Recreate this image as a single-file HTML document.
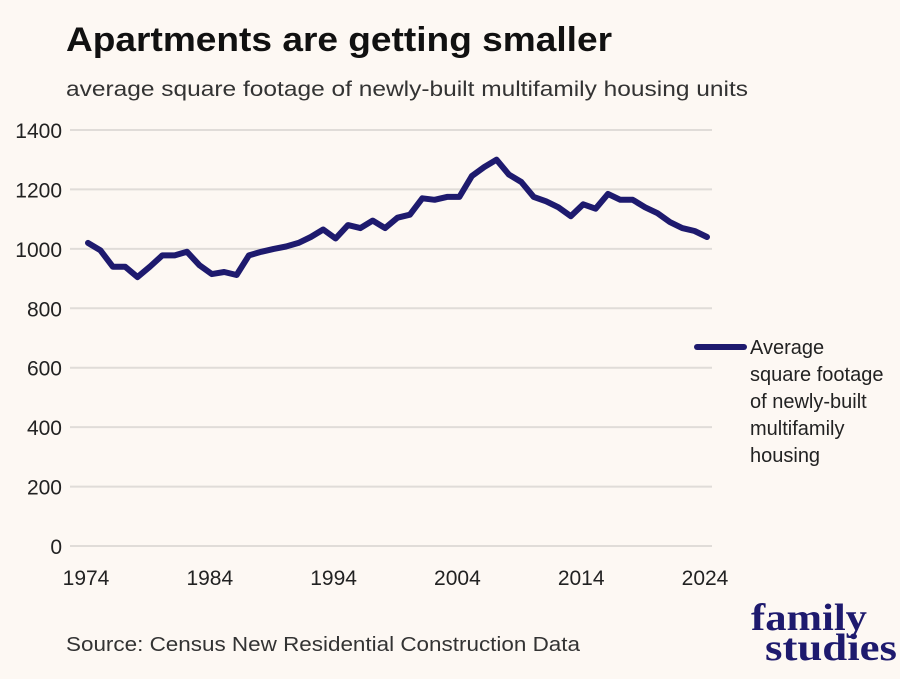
<!DOCTYPE html>
<html><head><meta charset="utf-8"><style>
body{margin:0;background:#fdf8f3;}
svg{display:block;font-family:"Liberation Sans",sans-serif;}
</style></head><body>
<svg width="900" height="679" viewBox="0 0 900 679">
<rect width="900" height="679" fill="#fdf8f3"/>
<text x="66" y="51" font-size="34" font-weight="bold" fill="#111" textLength="546" lengthAdjust="spacingAndGlyphs">Apartments are getting smaller</text>
<text x="66" y="96" font-size="21" fill="#333" textLength="682" lengthAdjust="spacingAndGlyphs">average square footage of newly-built multifamily housing units</text>
<g id="grid"></g>
<g id="yticks"></g>
<g id="xticks"></g>
<path id="line" fill="none" stroke="#1e1a6e" stroke-width="6" stroke-linejoin="round" stroke-linecap="round"/>
<g>
<line x1="697" y1="347" x2="744" y2="347" stroke="#1e1a6e" stroke-width="6" stroke-linecap="round"/>
<text font-size="20" fill="#222"><tspan x="750" y="354">Average</tspan><tspan x="750" y="381">square footage</tspan><tspan x="750" y="408">of newly-built</tspan><tspan x="750" y="435">multifamily</tspan><tspan x="750" y="462">housing</tspan></text>
</g>
<text x="66" y="651" font-size="20" fill="#333" textLength="514" lengthAdjust="spacingAndGlyphs">Source: Census New Residential Construction Data</text>
<g font-family="Liberation Serif,serif" font-weight="bold" fill="#1e1a6e">
<text x="751" y="630" font-size="38" textLength="116" lengthAdjust="spacingAndGlyphs">family</text>
<text x="765" y="660" font-size="38" textLength="132" lengthAdjust="spacingAndGlyphs">studies</text>
</g>
</svg>
<script>
const years=[];for(let y=1974;y<=2024;y++)years.push(y);
const values=[1020,995,940,940,905,940,978,978,990,945,915,922,912,978,990,1000,1008,1020,1040,1065,1035,1080,1070,1095,1070,1105,1115,1170,1165,1175,1175,1245,1275,1300,1250,1225,1175,1160,1140,1110,1150,1135,1185,1165,1165,1140,1120,1090,1070,1060,1040];
const yTicks=[0,200,400,600,800,1000,1200,1400];
const xTicks=[1974,1984,1994,2004,2014,2024];
const NS="http://www.w3.org/2000/svg";
const xs=y=>88+(y-1974)*(707-88)/50;
const ys=v=>546-v*(546-130)/1400;
const grid=document.getElementById('grid'),yt=document.getElementById('yticks'),xt=document.getElementById('xticks');
yTicks.forEach(t=>{
 const l=document.createElementNS(NS,'line');
 l.setAttribute('x1',70);l.setAttribute('x2',712);l.setAttribute('y1',ys(t));l.setAttribute('y2',ys(t));
 l.setAttribute('stroke','#e0dcd8');l.setAttribute('stroke-width','2');
 
 
 grid.appendChild(l);
 const tx=document.createElementNS(NS,'text');
 tx.setAttribute('x',62);tx.setAttribute('y',ys(t)+8);tx.setAttribute('text-anchor','end');
 tx.setAttribute('font-size','21');tx.setAttribute('fill','#222');tx.textContent=t;
 
 
 yt.appendChild(tx);
});
xTicks.forEach(t=>{
 const tx=document.createElementNS(NS,'text');
 tx.setAttribute('x',xs(t)-2);tx.setAttribute('y',585);tx.setAttribute('text-anchor','middle');
 tx.setAttribute('font-size','21');tx.setAttribute('fill','#222');tx.textContent=t;
 
 
 xt.appendChild(tx);
});
document.getElementById('line').setAttribute('d',values.map((v,i)=>(i?'L':'M')+xs(years[i]).toFixed(1)+','+ys(v).toFixed(1)).join(''));
</script>
</body></html>
